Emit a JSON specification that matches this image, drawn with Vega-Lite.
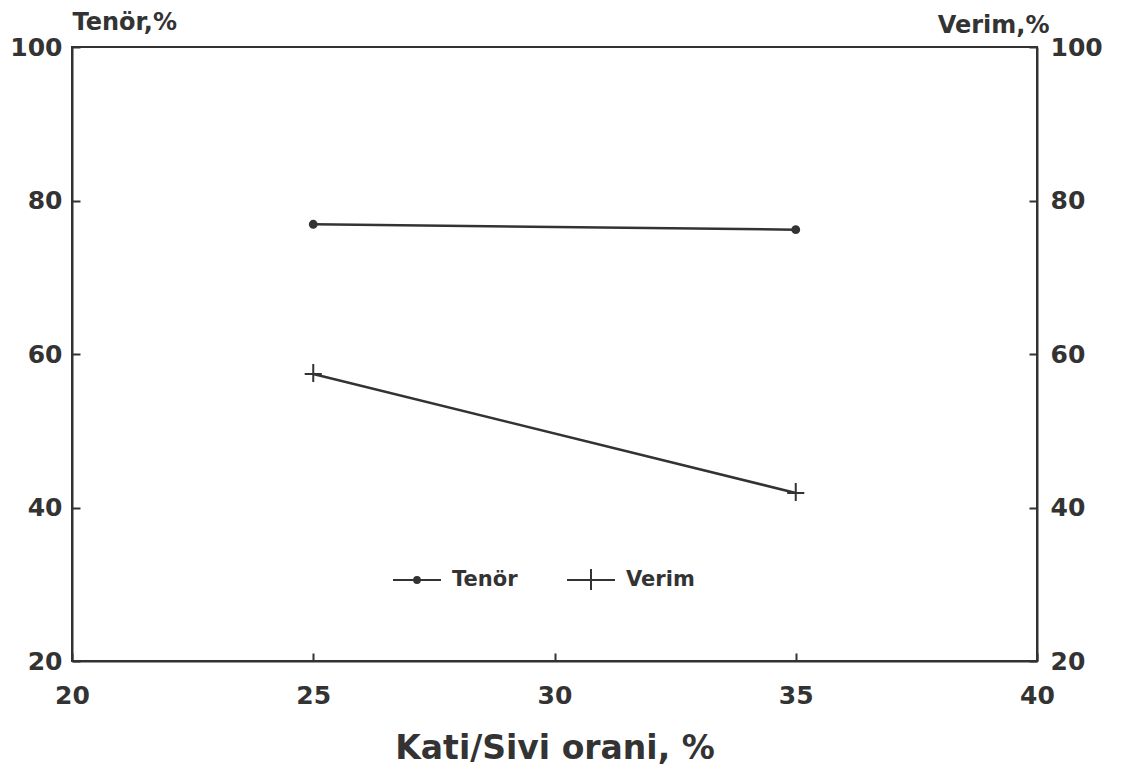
{
  "$schema": "https://vega.github.io/schema/vega-lite/v6.json",
  "width": 965,
  "height": 614,
  "autosize": "none",
  "padding": {"left": 72, "top": 47, "right": 91, "bottom": 118},
  "background": "white",
  "config": {
    "view": {"stroke": "#333333", "strokeWidth": 2},
    "font": "DejaVu Sans",
    "axis": {
      "labelFont": "DejaVu Sans",
      "labelFontWeight": "bold",
      "labelFontSize": 25,
      "labelColor": "#333333",
      "titleFont": "DejaVu Sans",
      "titleFontWeight": "bold",
      "titleColor": "#333333",
      "domainColor": "#333333",
      "domainWidth": 2,
      "tickColor": "#333333",
      "tickWidth": 2,
      "tickSize": -8,
      "grid": false,
      "labelOverlap": false,
      "labelFlush": false
    },
    "legend": {
      "orient": "none",
      "direction": "horizontal",
      "padding": 0,
      "symbolSize": 2304,
      "symbolStrokeWidth": 2,
      "labelFont": "DejaVu Sans",
      "labelFontWeight": "bold",
      "labelFontSize": 21,
      "labelColor": "#333333",
      "labelOffset": 10
    }
  },
  "data": {
    "values": [
      {"oran": 25, "seri": "Tenör", "deger": 76.9},
      {"oran": 35, "seri": "Tenör", "deger": 76.2},
      {"oran": 25, "seri": "Verim", "deger": 57.4},
      {"oran": 35, "seri": "Verim", "deger": 41.9}
    ]
  },
  "layer": [
    {
      "mark": {"type": "line", "color": "#333333", "strokeWidth": 2.5},
      "encoding": {
        "x": {
          "field": "oran",
          "type": "quantitative",
          "scale": {"domain": [20, 40], "nice": false, "zero": false},
          "axis": {
            "values": [20, 25, 30, 35, 40],
            "format": "d",
            "labelPadding": 42,
            "labelBaseline": "middle",
            "title": "Kati/Sivi orani, %",
            "titleFontSize": 33,
            "titleBaseline": "middle",
            "titleY": 87
          }
        },
        "y": {
          "field": "deger",
          "type": "quantitative",
          "scale": {"domain": [20, 100], "nice": false, "zero": false},
          "axis": {
            "orient": "left",
            "values": [20, 40, 60, 80, 100],
            "format": "d",
            "labelPadding": 18,
            "title": "Tenör,%",
            "titleFontSize": 24,
            "titleAngle": 0,
            "titleAlign": "left",
            "titleBaseline": "middle",
            "titleX": 0,
            "titleY": -25
          }
        },
        "detail": {"field": "seri", "type": "nominal"}
      }
    },
    {
      "encoding": {
        "x": {"field": "oran", "type": "quantitative"},
        "y": {
          "field": "deger",
          "type": "quantitative",
          "scale": {"domain": [20, 100], "nice": false, "zero": false},
          "axis": {
            "orient": "right",
            "values": [20, 40, 60, 80, 100],
            "format": "d",
            "labelPadding": 21,
            "title": "Verim,%",
            "titleFontSize": 24,
            "titleAngle": 0,
            "titleAlign": "right",
            "titleBaseline": "middle",
            "titleX": 12,
            "titleY": -22
          }
        }
      },
      "layer": [
        {
          "transform": [{"filter": "datum.seri === 'Tenör'"}],
          "mark": {
            "type": "point",
            "filled": false,
            "strokeWidth": 2,
            "size": 324,
            "opacity": 1,
            "shape": "M-0.38,0A0.38,0.38 0 1,0 0.38,0A0.38,0.38 0 1,0 -0.38,0ZM-0.22,0A0.22,0.22 0 1,0 0.22,0A0.22,0.22 0 1,0 -0.22,0ZM-0.08,0A0.08,0.08 0 1,0 0.08,0A0.08,0.08 0 1,0 -0.08,0Z"
          },
          "encoding": {
            "color": {
              "field": "seri",
              "type": "nominal",
              "scale": {"domain": ["Tenör"], "range": ["#333333"]},
              "legend": {
                "title": null,
                "legendX": 320,
                "legendY": 508,
                "symbolType": "M-1,0H1M-0.12,0A0.12,0.12 0 1,0 0.12,0A0.12,0.12 0 1,0 -0.12,0ZM-0.06,0A0.06,0.06 0 1,0 0.06,0A0.06,0.06 0 1,0 -0.06,0Z"
              }
            }
          }
        },
        {
          "transform": [{"filter": "datum.seri === 'Verim'"}],
          "mark": {
            "type": "point",
            "filled": false,
            "strokeWidth": 2,
            "size": 324,
            "opacity": 1,
            "shape": "M-0.95,0H0.95M0,-1.1V0.9"
          },
          "encoding": {
            "color": {
              "field": "seri",
              "type": "nominal",
              "scale": {"domain": ["Verim"], "range": ["#333333"]},
              "legend": {
                "title": null,
                "legendX": 494,
                "legendY": 508,
                "symbolType": "M-1,0H1M0,-0.46V0.42"
              }
            }
          }
        }
      ],
      "resolve": {"scale": {"color": "independent"}}
    }
  ],
  "resolve": {"scale": {"y": "independent"}}
}
